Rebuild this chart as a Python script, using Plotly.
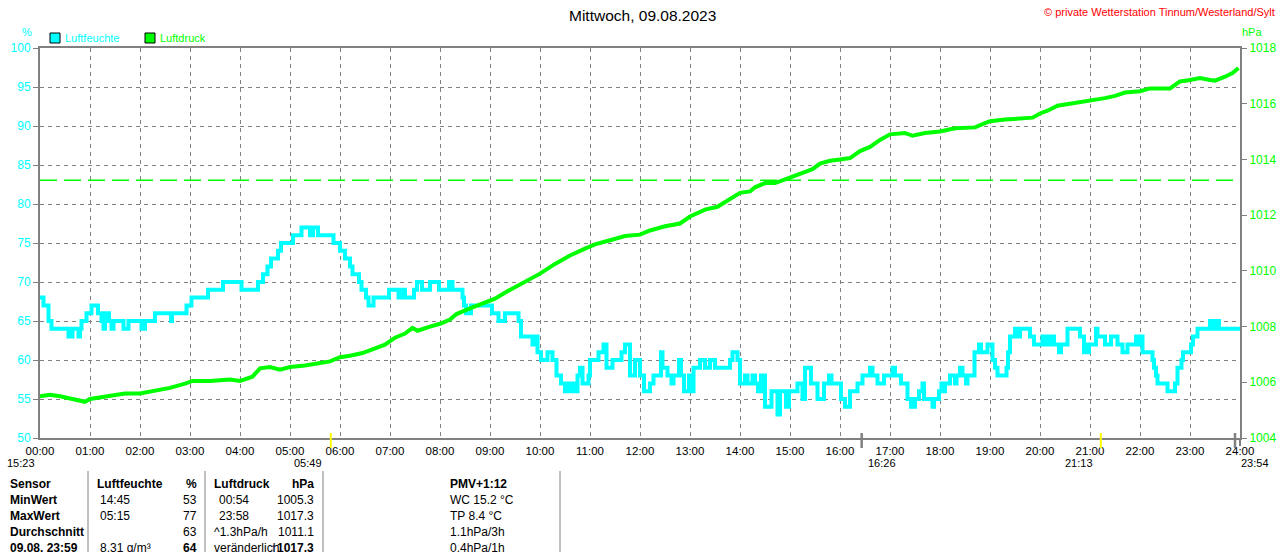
import plotly.graph_objects as go

# ---------------- data ----------------
hours = list(range(0, 25))
hour_labels = [f"{h:02d}:00" for h in hours]

hum_t = [0.00, 0.07, 0.17, 0.23, 0.57, 0.65, 0.77, 0.80, 0.83, 0.93, 1.03, 1.16, 1.23, 1.27, 1.30,
         1.38, 1.43, 1.47, 1.67, 1.77, 2.03, 2.10, 2.30, 2.62, 2.64, 2.93, 3.03, 3.36, 3.66, 4.03,
         4.36, 4.46, 4.55, 4.62, 4.76, 4.82, 5.06, 5.23, 5.40, 5.46, 5.56, 5.87, 6.00, 6.10, 6.20,
         6.25, 6.38, 6.43, 6.52, 6.57, 6.67, 6.98, 7.17, 7.22, 7.30, 7.48, 7.54, 7.64, 7.80, 7.98,
         8.18, 8.25, 8.45, 8.48, 8.52, 8.62, 9.04, 9.17, 9.30, 9.57, 9.62, 9.85, 9.90, 9.95, 10.02,
         10.15, 10.25, 10.33, 10.42, 10.50, 10.55, 10.60, 10.65, 10.70, 10.75, 10.80, 10.85, 10.97,
         11.00, 11.17, 11.27, 11.33, 11.45, 11.63, 11.70, 11.80, 11.90, 12.00, 12.08, 12.20, 12.27,
         12.42, 12.45, 12.55, 12.63, 12.67, 12.78, 12.82, 12.88, 12.98, 13.02, 13.07, 13.20, 13.30,
         13.40, 13.50, 13.80, 13.85, 13.95, 14.00, 14.10, 14.15, 14.25, 14.30, 14.36, 14.42, 14.50,
         14.63, 14.75, 14.80, 14.92, 14.98, 15.15, 15.25, 15.30, 15.42, 15.55, 15.68, 15.78, 15.83,
         16.02, 16.10, 16.20, 16.35, 16.45, 16.60, 16.65, 16.75, 16.88, 17.05, 17.10, 17.22, 17.35,
         17.42, 17.50, 17.58, 17.65, 17.68, 17.85, 17.88, 17.98, 18.03, 18.08, 18.10, 18.20, 18.30,
         18.33, 18.40, 18.45, 18.52, 18.55, 18.69, 18.78, 18.82, 18.95, 19.05, 19.10, 19.15, 19.33,
         19.36, 19.40, 19.50, 19.52, 19.60, 19.80, 19.88, 20.05, 20.08, 20.15, 20.18, 20.25, 20.28,
         20.38, 20.42, 20.55, 20.80, 20.88, 20.92, 20.95, 20.98, 21.12, 21.15, 21.30, 21.42, 21.55,
         21.65, 21.75, 21.92, 21.95, 21.98, 22.05, 22.25, 22.28, 22.32, 22.35, 22.55, 22.70, 22.75,
         22.83, 22.86, 23.02, 23.06, 23.15, 23.40, 23.47, 23.50, 23.58, 24.00]
hum_v = [68, 67, 65, 64, 63, 64, 63, 64, 65, 66, 67, 66, 65, 64, 66,
         65, 64, 65, 64, 65, 64, 65, 66, 65, 66, 67, 68, 69, 70, 69,
         70, 71, 72, 73, 74, 75, 76, 77, 76, 77, 76, 75, 74, 73, 72,
         71, 70, 69, 68, 67, 68, 69, 68, 69, 68, 69, 70, 69, 70, 69,
         70, 69, 68, 67, 66, 67, 66, 65, 66, 65, 63, 62, 63, 61, 60,
         61, 60, 58, 57, 56, 57, 56, 57, 56, 58, 59, 57, 58,
         60, 61, 62, 59, 60, 61, 62, 58, 60, 58, 56, 57, 58,
         61, 59, 58, 57, 58, 60, 58, 56, 58, 56, 59, 60, 59,
         60, 59, 60, 61, 60, 57, 58, 57, 58, 57, 56, 58, 54,
         56, 53, 56, 54, 56, 57, 55, 59, 57, 55, 57, 58, 57,
         55, 54, 56, 57, 58, 59, 58, 57, 58, 59, 58, 57, 55,
         54, 55, 56, 57, 55, 54, 55, 56, 57, 56, 57, 58, 57,
         58, 59, 58, 57, 58, 61, 62, 61, 62, 60, 59, 58, 59,
         61, 63, 64, 63, 64, 63, 62, 63, 62, 63, 62, 63, 62,
         61, 62, 64, 63, 61, 62, 61, 62, 64, 63, 62, 63, 62,
         61, 62, 63, 62, 63, 61, 60, 59, 58, 57, 56, 57, 59,
         60, 61, 62, 63, 64, 65, 64, 65, 64, 64]

pres_t = [0.0, 0.2, 0.4, 0.55, 0.7, 0.9, 1.0, 1.2, 1.4, 1.7, 2.0, 2.3, 2.6, 2.9, 3.05, 3.4, 3.8,
          4.0, 4.25, 4.4, 4.6, 4.8, 5.0, 5.3, 5.6, 5.8, 6.0, 6.2, 6.45, 6.7, 6.9, 7.1, 7.3, 7.45,
          7.55, 7.8, 8.0, 8.2, 8.33, 8.6, 8.9, 9.1, 9.33, 9.6, 9.8, 10.0, 10.3, 10.6, 10.9, 11.1,
          11.4, 11.7, 12.0, 12.2, 12.5, 12.8, 13.0, 13.3, 13.55, 13.8, 14.0, 14.2, 14.3, 14.5,
          14.7, 14.85, 15.0, 15.25, 15.45, 15.6, 15.8, 16.0, 16.2, 16.4, 16.6, 16.8, 17.0, 17.3,
          17.45, 17.7, 18.0, 18.3, 18.7, 18.9, 19.0, 19.3, 19.6, 19.85, 20.0, 20.15, 20.35, 20.6,
          21.0, 21.3, 21.5, 21.7, 22.0, 22.2, 22.6, 22.8, 23.0, 23.2, 23.4, 23.5, 23.7, 23.85, 23.97]
pres_v = [1005.5, 1005.55, 1005.5, 1005.45, 1005.4, 1005.3, 1005.4, 1005.45, 1005.5, 1005.6,
          1005.6, 1005.7, 1005.8, 1005.95, 1006.05, 1006.05, 1006.1, 1006.05, 1006.2, 1006.5,
          1006.55, 1006.45, 1006.55, 1006.6, 1006.7, 1006.75, 1006.9, 1006.95, 1007.05, 1007.2,
          1007.35, 1007.6, 1007.75, 1007.95, 1007.85, 1008.0, 1008.1, 1008.25, 1008.45, 1008.65,
          1008.85, 1009.0, 1009.25, 1009.5, 1009.7, 1009.9, 1010.25, 1010.55, 1010.8, 1010.95,
          1011.1, 1011.25, 1011.3, 1011.45, 1011.6, 1011.7, 1011.95, 1012.2, 1012.3, 1012.6,
          1012.8, 1012.85, 1013.0, 1013.15, 1013.15, 1013.25, 1013.35, 1013.5, 1013.65, 1013.85,
          1013.95, 1014.0, 1014.05, 1014.3, 1014.45, 1014.7, 1014.9, 1014.95, 1014.85, 1014.95,
          1015.0, 1015.12, 1015.15, 1015.3, 1015.37, 1015.43, 1015.45, 1015.5, 1015.65, 1015.75,
          1015.93, 1016.0, 1016.1, 1016.2, 1016.28, 1016.4, 1016.45, 1016.55, 1016.55, 1016.8,
          1016.85, 1016.92, 1016.85, 1016.83, 1016.97, 1017.1, 1017.28]

std_pressure = 1013.25

hum_ticks = [50, 55, 60, 65, 70, 75, 80, 85, 90, 95, 100]
pres_ticks = [1004, 1006, 1008, 1010, 1012, 1014, 1016, 1018]

# events below axis (hours)
sunrise, sunset = 5 + 49 / 60, 21 + 13 / 60
moon_events = [16 + 26 / 60, 23 + 54 / 60]
moon_labels = ["16:26", "23:54"]

title_text = "Mittwoch, 09.08.2023"
copyright_text = "© private Wetterstation Tinnum/Westerland/Sylt"

table_rows = ["Sensor", "MinWert", "MaxWert", "Durchschnitt", "09.08. 23:59"]
hum_time_col = ["", "14:45", "05:15", "", "8.31 g/m³"]
hum_val_col = ["%", "53", "77", "63", "64"]
pres_time_col = ["", "00:54", "23:58", "^1.3hPa/h", "veränderlich"]
pres_val_col = ["hPa", "1005.3", "1017.3", "1011.1", "1017.3"]
extra_col = ["PMV+1:12", "WC 15.2 °C", "TP 8.4 °C", "1.1hPa/3h", "0.4hPa/1h"]

# ---------------- layout helpers ----------------
W, H = 1280, 552
L, R, T, B = 40, 1240, 48, 438
CYAN, GREEN, GRAY = "#00FFFF", "#00FF00", "#808080"
FONT = "Liberation Sans, Arial, sans-serif"


def px(x):
    return (x - L) / (R - L)


def py(y):
    return (B - y) / (B - T)


def hum_at_pixel(y):
    return 100 - (y - T) / ((B - T) / 50)


fig = go.Figure()

fig.add_trace(go.Scatter(x=[0, 24], y=[std_pressure, std_pressure], yaxis="y2", mode="lines",
                         line=dict(color=GREEN, width=1.5, dash="17px,7px"), hoverinfo="skip",
                         showlegend=False))
fig.add_trace(go.Scatter(x=pres_t, y=pres_v, yaxis="y2", mode="lines", name="Luftdruck",
                         line=dict(color=GREEN, width=4), showlegend=False))
fig.add_trace(go.Scatter(x=hum_t, y=hum_v, mode="lines", name="Luftfeuchte",
                         line=dict(color=CYAN, width=4, shape="hv"), showlegend=False))

shapes = []
annotations = []

# event tick marks
for t, col, w in [(sunrise, "#FFFF00", 2), (sunset, "#FFFF00", 2),
                  (moon_events[0], GRAY, 2.5), (moon_events[1], GRAY, 2.5)]:
    shapes.append(dict(type="line", xref="x", yref="paper", x0=t, x1=t, y0=py(433), y1=py(448),
                       line=dict(color=col, width=w)))
# right axis extension below the frame
shapes.append(dict(type="line", xref="paper", yref="paper", x0=1, x1=1, y0=py(438), y1=py(446),
                   line=dict(color=GRAY, width=2)))

# legend
for x0, col, label in [(50, CYAN, "Luftfeuchte"), (145, GREEN, "Luftdruck")]:
    shapes.append(dict(type="rect", xref="paper", yref="paper", x0=px(x0), x1=px(x0 + 10),
                       y0=py(43), y1=py(33), fillcolor=col, line=dict(color="black", width=1)))
    annotations.append(dict(xref="paper", yref="paper", x=px(x0 + 13), y=py(38), text=label,
                            showarrow=False, xanchor="left", yanchor="middle",
                            font=dict(color=col, size=11, family=FONT)))

annotations += [
    dict(xref="paper", yref="paper", x=px(27), y=py(32), text="%", showarrow=False,
         font=dict(color=CYAN, size=11, family=FONT), xanchor="center", yanchor="middle"),
    dict(xref="paper", yref="paper", x=px(1240), y=py(32), text="hPa", showarrow=False,
         font=dict(color=GREEN, size=11, family=FONT), xanchor="left", yanchor="middle"),
    dict(xref="paper", yref="paper", x=px(642), y=py(15), text=title_text, showarrow=False,
         font=dict(color="black", size=15.5, family=FONT), xanchor="center", yanchor="middle"),
    dict(xref="paper", yref="paper", x=px(1277), y=py(12), text=copyright_text, showarrow=False,
         font=dict(color="#FF0000", size=11, family=FONT), xanchor="right", yanchor="middle"),
]

# event labels
ev_font = dict(color="black", size=11, family=FONT)
annotations += [
    dict(xref="paper", yref="paper", x=px(37), y=py(463), text="15:23", showarrow=False,
         xanchor="right", yanchor="middle", font=ev_font),
    dict(xref="x", yref="paper", x=sunrise, y=py(463), xshift=-7, text="05:49", showarrow=False,
         xanchor="right", yanchor="middle", font=ev_font),
    dict(xref="x", yref="paper", x=sunset, y=py(463), xshift=-6, text="21:13", showarrow=False,
         xanchor="right", yanchor="middle", font=ev_font),
]
for t, lab in zip(moon_events, moon_labels):
    annotations.append(dict(xref="x", yref="paper", x=t, y=py(463), xshift=4, text=lab,
                            showarrow=False, xanchor="left", yanchor="middle", font=ev_font))

# icons (sun, moon, moon-phase)
icon_y = hum_at_pixel(463)
fig.add_trace(go.Scatter(x=[sunrise], y=[icon_y], mode="markers", cliponaxis=False,
                         marker=dict(symbol="circle", size=8, color="#FFFF00",
                                     line=dict(color="#FFE000", width=1)),
                         hoverinfo="skip", showlegend=False))
fig.add_trace(go.Scatter(x=[sunset], y=[icon_y], mode="markers", cliponaxis=False,
                         marker=dict(symbol="square-open", size=7, color="#FFFF00",
                                     line=dict(color="#FFFF00", width=1.5)),
                         hoverinfo="skip", showlegend=False))
fig.add_trace(go.Scatter(x=[0.1], y=[hum_at_pixel(464)], mode="markers", cliponaxis=False,
                         marker=dict(symbol="triangle-up", size=8, color="#FFE000"),
                         hoverinfo="skip", showlegend=False))
fig.add_trace(go.Scatter(x=moon_events, y=[icon_y] * 2, mode="markers",
                         cliponaxis=False,
                         marker=dict(symbol="square", size=11, color="#101080"),
                         hoverinfo="skip", showlegend=False))
fig.add_trace(go.Scatter(x=moon_events, y=[icon_y] * 2, mode="markers",
                         cliponaxis=False,
                         marker=dict(symbol=["arrow-down", "arrow-up"], size=7, color="#FFFF00"),
                         hoverinfo="skip", showlegend=False))

# table separators
for xs in [88, 205, 323, 560]:
    shapes.append(dict(type="line", xref="paper", yref="paper", x0=px(xs), x1=px(xs),
                       y0=py(471), y1=py(552), line=dict(color=GRAY, width=1)))

row_y = [484, 500, 516, 532, 548]
tfont = dict(color="black", size=12, family=FONT)


def txt(s, b):
    return f"<b>{s}</b>" if b and s else s


for i, yrow in enumerate(row_y):
    bold_row = (i == 0)
    annotations.append(dict(xref="paper", yref="paper", x=px(8), y=py(yrow),
                            text=f"<b>{table_rows[i]}</b>", showarrow=False, xanchor="left",
                            yanchor="middle", font=tfont))
    annotations.append(dict(xref="paper", yref="paper", x=px(95 if i == 0 else 98), y=py(yrow),
                            text=txt("Luftfeuchte" if i == 0 else hum_time_col[i], bold_row),
                            showarrow=False, xanchor="left", yanchor="middle", font=tfont))
    annotations.append(dict(xref="paper", yref="paper", x=px(199), y=py(yrow),
                            text=txt(hum_val_col[i], bold_row or i == 4), showarrow=False,
                            xanchor="right", yanchor="middle", font=tfont))
    ptxt = "Luftdruck" if i == 0 else pres_time_col[i]
    annotations.append(dict(xref="paper", yref="paper",
                            x=px(212 if i in (0, 3, 4) else 217), y=py(yrow),
                            text=txt(ptxt, bold_row), showarrow=False, xanchor="left",
                            yanchor="middle", font=tfont))
    annotations.append(dict(xref="paper", yref="paper", x=px(316), y=py(yrow),
                            text=txt(pres_val_col[i], bold_row or i == 4), showarrow=False,
                            xanchor="right", yanchor="middle", font=tfont))
    annotations.append(dict(xref="paper", yref="paper", x=px(448), y=py(yrow),
                            text=txt(extra_col[i], bold_row), showarrow=False, xanchor="left",
                            yanchor="middle", font=tfont))
annotations.append(dict(xref="paper", yref="paper", x=px(273), y=py(548), text="<b>↑</b>",
                        showarrow=False, xanchor="center", yanchor="middle",
                        font=dict(color="#101080", size=12, family=FONT)))

fig.update_layout(
    width=W, height=H,
    margin=dict(l=L, r=W - R, t=T, b=H - B, pad=0, autoexpand=False),
    paper_bgcolor="white", plot_bgcolor="white",
    showlegend=False,
    font=dict(family=FONT, size=12, color="black"),
    xaxis=dict(range=[0, 24], tickmode="array", tickvals=hours, ticktext=hour_labels,
               showgrid=True, gridcolor=GRAY, gridwidth=1, griddash="4px,4px",
               showline=True, linecolor=GRAY, linewidth=2, mirror=True, ticks="",
               zeroline=False, automargin=False, ticklabelstandoff=1,
               tickfont=dict(color="black", size=11.5, family=FONT)),
    yaxis=dict(range=[50, 100], tickmode="array", tickvals=hum_ticks,
               showgrid=True, gridcolor=GRAY, gridwidth=1, griddash="4px,4px",
               showline=True, linecolor=GRAY, linewidth=2, ticks="outside", ticklen=5,
               tickcolor=GRAY, tickwidth=1, zeroline=False, automargin=False,
               tickfont=dict(color=CYAN, size=12, family=FONT)),
    yaxis2=dict(range=[1004, 1018], overlaying="y", side="right", tickmode="array",
                tickvals=pres_ticks, showgrid=False, showline=True, linecolor=GRAY,
                linewidth=2, ticks="outside", ticklen=5, tickcolor=GRAY, tickwidth=1,
                zeroline=False, automargin=False,
                tickfont=dict(color=GREEN, size=12, family=FONT)),
    shapes=shapes,
    annotations=annotations,
)

fig.write_html("out.html", config={"displayModeBar": False},
               post_script="document.body.style.margin='0';document.body.style.overflow='hidden';")
